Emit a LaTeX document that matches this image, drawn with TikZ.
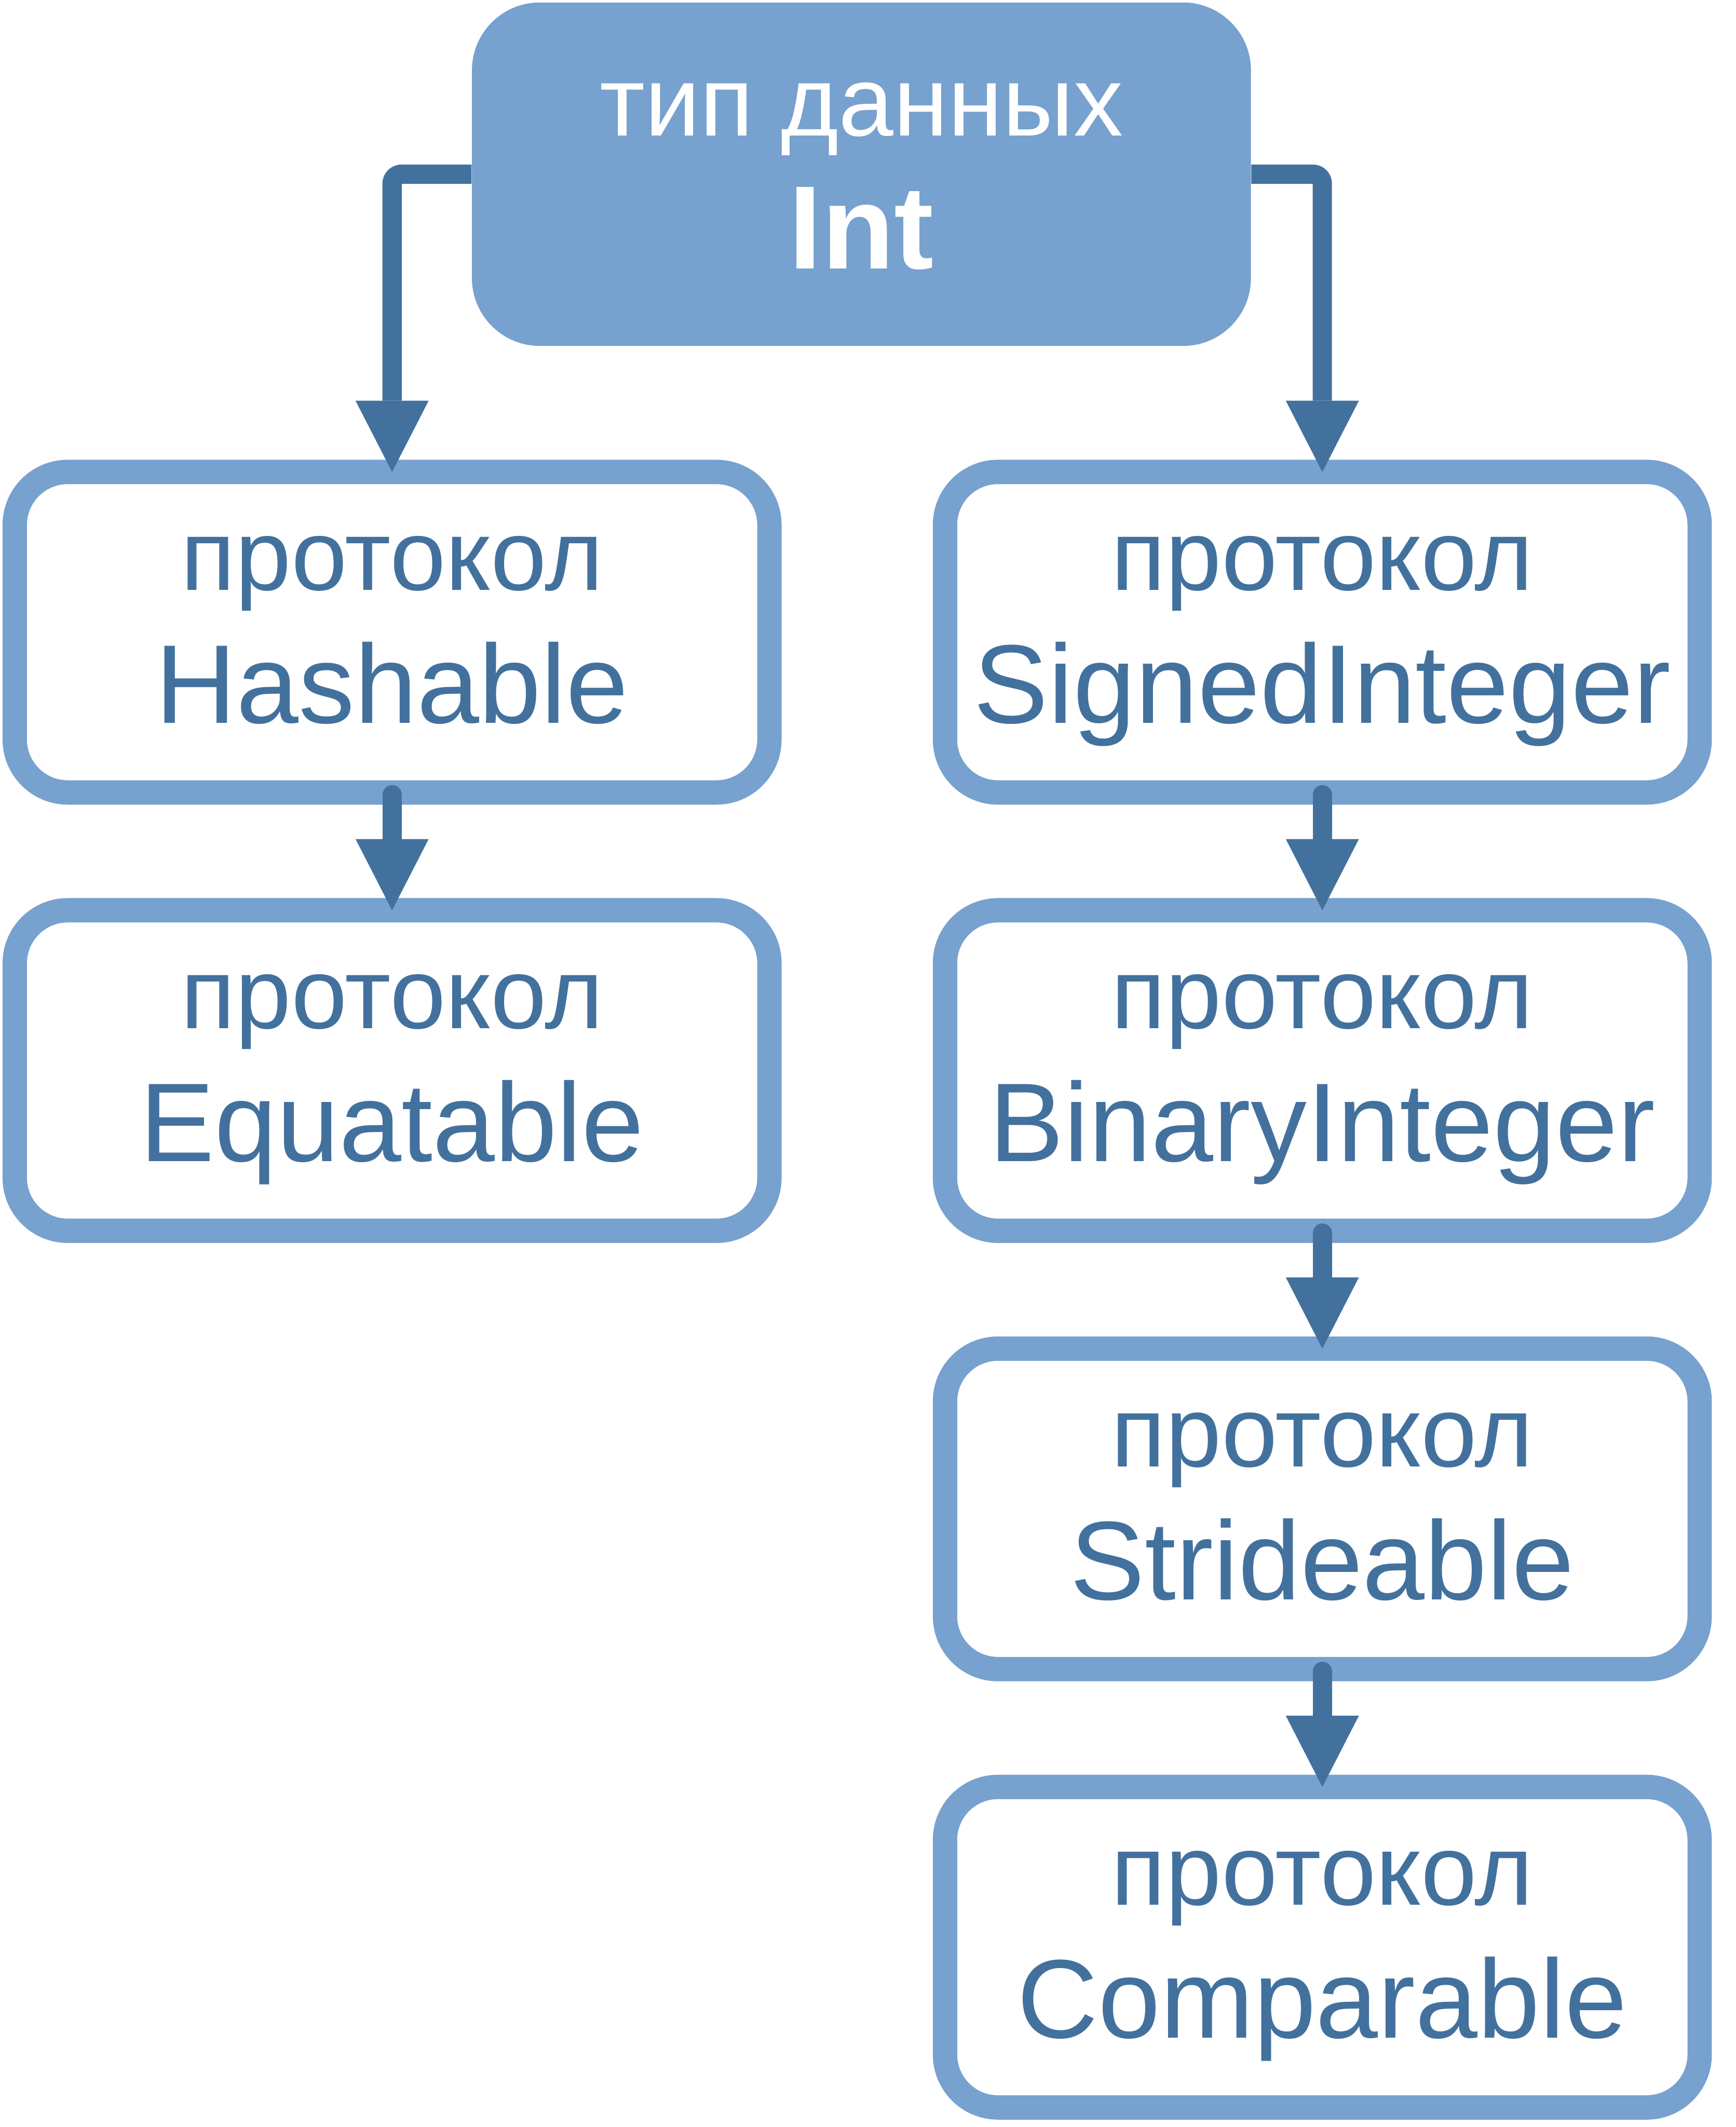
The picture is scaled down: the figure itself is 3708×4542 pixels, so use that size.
\documentclass[tikz,border=0pt]{standalone}
\usepackage{fontspec}
\setmainfont{Liberation Sans}
\usetikzlibrary{arrows.meta,calc}
\definecolor{boxblue}{RGB}{119,161,206}
\definecolor{darkblue}{RGB}{67,113,158}
\begin{document}
\begin{tikzpicture}[x=0.01cm,y=-0.01cm,
 protobox/.style={draw=boxblue, line width=14.8pt, fill=white, rounded corners=1.13cm,
   minimum width=16.11cm, minimum height=6.84cm, inner sep=0pt},
 topbox/.style={fill=boxblue, rounded corners=1.45cm, minimum width=16.63cm,
   minimum height=7.33cm, inner sep=0pt},
 conn/.style={draw=darkblue, line width=11.7pt, shorten >=-0.26cm,
   -{Triangle[width=1.56cm,length=1.52cm,line width=0pt]}},
 kw/.style={font=\fontsize{61}{61}\selectfont, text=darkblue, anchor=base, inner sep=0pt},
 nm/.style={font=\fontsize{68}{68}\selectfont, text=darkblue, anchor=base, inner sep=0pt},
 topkw/.style={font=\fontsize{60}{60}\selectfont, text=white, anchor=base, inner sep=0pt},
 topnm/.style={font=\fontsize{72}{72}\selectfont\bfseries, text=white, anchor=base, inner sep=0pt}]
\useasboundingbox (0,0) rectangle (3708,4542);

% top node
\node[topbox] (top) at (1840,372) {};
\node[topkw] (t1) at (1840,290) {тип данных};
\node[topnm] (t2) at (1840,574) {Int};

% left column
\node[protobox] (h) at (837.5,1350) {};
\node[protobox] (e) at (837.5,2286) {};
% right column
\node[protobox] (s) at (2824.5,1350) {};
\node[protobox] (b) at (2824.5,2286) {};
\node[protobox] (st) at (2824.5,3222) {};
\node[protobox] (c) at (2824.5,4158) {};

\foreach \n/\name in {h/Hashable,e/Equatable,s/SignedInteger,b/BinaryInteger,st/Strideable,c/Comparable}{
  \node[kw] (\n kw) at ($(\n.north)+(0,278)$) {протокол};
  \node[nm] (\n nm) at ($(\n.north)+(0,562)$) {\name};
}

% connectors
\draw[conn, rounded corners=0.2cm] (top.west) -| (h.north);
\draw[conn, rounded corners=0.2cm] (top.east) -| (s.north);
\draw[conn, line cap=round] ([yshift=6pt]h.south) -- (e.north);
\draw[conn, line cap=round] ([yshift=6pt]s.south) -- (b.north);
\draw[conn, line cap=round] ([yshift=6pt]b.south) -- (st.north);
\draw[conn, line cap=round] ([yshift=6pt]st.south) -- (c.north);
\end{tikzpicture}
\end{document}
